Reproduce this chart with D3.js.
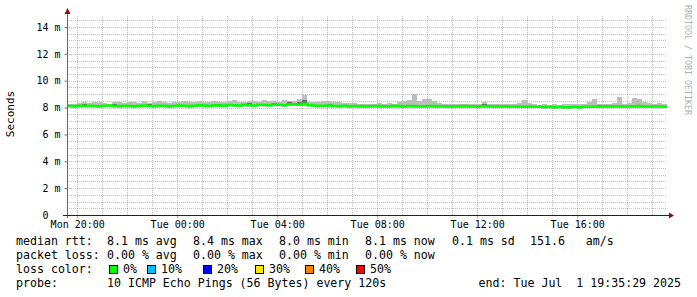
<!DOCTYPE html>
<html>
<head>
<meta charset="utf-8">
<script src="https://cdn.jsdelivr.net/npm/d3@7"></script>
<style>
body { margin: 0; background: #fff; }
svg text { font-family: "DejaVu Sans Mono", monospace; white-space: pre; }
</style>
</head>
<body>
<svg id="chart" width="697" height="297"></svg>
<script>
// 24h window, one bin every 12 minutes (ms values)
var start = new Date(2025, 5, 30, 19, 35, 29),
    end = new Date(2025, 6, 1, 19, 35, 29),
    binMinutes = 12;

var median = [
  8.12,8.10,8.13,8.11,8.14,8.12,8.10,8.13,8.15,8.12,
  8.11,8.14,8.12,8.10,8.13,8.16,8.12,8.11,8.14,8.13,
  8.10,8.12,8.15,8.13,8.11,8.14,8.17,8.15,8.12,8.18,
  8.16,8.13,8.19,8.17,8.15,8.20,8.18,8.16,8.21,8.19,
  8.17,8.22,8.20,8.18,8.23,8.25,8.21,8.28,8.19,8.16,
  8.14,8.13,8.15,8.12,8.11,8.13,8.10,8.12,8.11,8.09,
  8.10,8.12,8.11,8.09,8.10,8.13,8.11,8.10,8.12,8.11,
  8.09,8.10,8.12,8.11,8.09,8.10,8.08,8.10,8.09,8.11,
  8.10,8.08,8.09,8.11,8.10,8.08,8.09,8.10,8.08,8.07,
  8.08,8.06,8.07,8.05,8.06,8.04,8.05,8.03,8.04,8.02,
  8.03,8.04,8.02,8.05,8.06,8.08,8.07,8.09,8.08,8.10,
  8.09,8.08,8.10,8.09,8.11,8.08,8.07,8.09,8.08,8.06
];
var smokeHi = [
  8.30,8.28,8.35,8.40,8.32,8.38,8.45,8.36,8.30,8.42,
  8.38,8.33,8.40,8.44,8.35,8.48,8.36,8.42,8.46,8.38,
  8.35,8.44,8.40,8.52,8.38,8.45,8.48,8.40,8.44,8.50,
  8.42,8.38,8.46,8.55,8.44,8.40,8.48,8.52,8.42,8.58,
  8.46,8.50,8.44,8.56,8.48,8.52,8.60,8.90,8.45,8.40,
  8.38,8.48,8.52,8.45,8.40,8.36,8.32,8.34,8.30,8.28,
  8.30,8.26,8.32,8.28,8.35,8.30,8.42,8.48,8.55,9.00,
  8.50,8.60,8.62,8.48,8.36,8.30,8.28,8.26,8.30,8.27,
  8.25,8.24,8.28,8.45,8.30,8.25,8.26,8.30,8.24,8.26,
  8.32,8.55,8.35,8.28,8.22,8.25,8.20,8.26,8.22,8.24,
  8.30,8.28,8.24,8.26,8.40,8.60,8.30,8.26,8.25,8.32,
  8.82,8.30,8.34,8.72,8.64,8.40,8.35,8.28,8.33,8.26
];
var smokeLo = [
  8.02,8.00,8.03,8.01,8.04,8.02,7.99,8.03,8.05,8.01,
  8.00,8.04,8.02,7.98,8.03,8.05,8.02,8.00,8.04,8.02,
  7.99,8.01,8.05,8.02,8.00,8.04,8.06,8.05,8.01,8.07,
  8.05,8.02,8.08,8.06,8.04,8.09,8.07,8.05,8.10,8.08,
  8.06,8.11,8.08,8.07,8.10,8.12,8.08,8.12,8.06,8.04,
  8.03,8.01,8.04,8.01,8.00,8.02,7.98,8.01,8.00,7.97,
  7.99,8.01,7.99,7.97,7.98,8.02,7.99,7.98,8.01,7.99,
  7.97,7.98,8.01,7.99,7.97,7.98,7.96,7.99,7.97,8.00,
  7.98,7.96,7.97,8.00,7.98,7.96,7.97,7.99,7.96,7.95,
  7.96,7.94,7.95,7.93,7.94,7.92,7.93,7.91,7.93,7.90,
  7.91,7.93,7.90,7.94,7.95,7.97,7.95,7.98,7.96,7.99,
  7.97,7.96,7.99,7.97,8.00,7.96,7.95,7.98,7.96,7.94
];
// darker smoke patches (bin index, upper value)
var darkBins = [3, 9, 16, 30, 36, 41, 44, 46, 47, 52, 83, 106, 110];
var darkTop  = [8.26, 8.28, 8.25, 8.30, 8.33, 8.36, 8.38, 8.42, 8.55, 8.30, 8.24, 8.20, 8.22];

var yTicks = [0, 2, 4, 6, 8, 10, 12, 14];
var lossLabels = ["0%", "10%", "20%", "30%", "40%", "50%"];
var lossColors = ["#00ff00", "#00c0ff", "#0000ff", "#ffe800", "#ff8000", "#ff0000"];
var rttItems = ["median rtt:", "8.1 ms avg", "8.4 ms max", "8.0 ms min", "8.1 ms now", "0.1 ms sd", "151.6   am/s"];
var lossItems = ["packet loss:", "0.00 % avg", "0.00 % max", "0.00 % min", "0.00 % now"];
var probeItems = ["probe:", "10 ICMP Echo Pings (56 Bytes) every 120s"];
var endText = "end: Tue Jul  1 19:35:29 2025";

var plotLeft = 67, plotRight = 667, plotTop = 15, plotBottom = 215;
var itemX = [16, 107, 193, 279, 365, 452, 530];
var svg = d3.select("#chart");

var x = d3.scaleTime().domain([start, end]).range([plotLeft, plotRight]);
var y = d3.scaleLinear().domain([0, 14.89]).range([plotBottom, plotTop]);
var binTime = function(i) { return new Date(start.getTime() + i * binMinutes * 60000); };

function dotted(sel, color) {
  sel.select(".domain").remove();
  sel.selectAll("line").attr("stroke", color).attr("stroke-dasharray", "1,1")
     .attr("shape-rendering", "crispEdges");
}

// minor grid
svg.append("g")
    .attr("transform", "translate(" + plotLeft + ",0)")
    .call(d3.axisLeft(y).tickValues(d3.range(0.5, 15, 0.5).filter(function(v) { return v % 2 !== 0; }))
        .tickSize(-(plotRight - plotLeft)).tickFormat(""))
    .call(dotted, "#c0c0c0");

var hours = d3.timeHour.every(1).range(start, end);
svg.append("g")
    .attr("transform", "translate(0," + plotBottom + ")")
    .call(d3.axisBottom(x).tickValues(hours.filter(function(d) { return d.getHours() % 2 === 1; }))
        .tickSize(-(plotBottom - plotTop)).tickFormat(""))
    .call(dotted, "#c0c0c0");

// major grid (red)
svg.append("g")
    .attr("transform", "translate(" + plotLeft + ",0)")
    .call(d3.axisLeft(y).tickValues(yTicks.slice(1)).tickSize(-(plotRight - plotLeft)).tickFormat(""))
    .call(dotted, "rgba(255,0,0,0.35)");

svg.append("g")
    .attr("transform", "translate(0," + plotBottom + ")")
    .call(d3.axisBottom(x).tickValues(hours.filter(function(d) { return d.getHours() % 2 === 0; }))
        .tickSize(-(plotBottom - plotTop)).tickFormat(""))
    .call(dotted, "rgba(255,0,0,0.35)");

// smoke
svg.append("g").selectAll("rect")
    .data(median)
    .enter().append("rect")
    .attr("x", function(d, i) { return x(binTime(i)); })
    .attr("width", function(d, i) { return x(binTime(i + 1)) - x(binTime(i)); })
    .attr("y", function(d, i) { return y(smokeHi[i]); })
    .attr("height", function(d, i) { return y(smokeLo[i]) - y(smokeHi[i]); })
    .attr("fill", "#bdbdbd")
    .attr("shape-rendering", "crispEdges");

svg.append("g").selectAll("rect")
    .data(darkBins)
    .enter().append("rect")
    .attr("x", function(d) { return x(binTime(d)); })
    .attr("width", function(d) { return x(binTime(d + 1)) - x(binTime(d)); })
    .attr("y", function(d, i) { return y(darkTop[i]); })
    .attr("height", function(d, i) { return y(median[d]) - y(darkTop[i]); })
    .attr("fill", "#6a6a6a")
    .attr("shape-rendering", "crispEdges");

// median line
var pts = median.map(function(d, i) { return [binTime(i), d]; });
pts.push([end, median[median.length - 1]]);
svg.append("path")
    .datum(pts)
    .attr("fill", "none")
    .attr("stroke", "#00ff00")
    .attr("stroke-width", 2.5)
    .attr("d", d3.line().curve(d3.curveStepAfter)
        .x(function(d) { return x(d[0]); })
        .y(function(d) { return y(d[1]); }));

// y axis with labels
var yAxis = svg.append("g")
    .attr("transform", "translate(" + (plotLeft + 0.5) + ",0)")
    .call(d3.axisLeft(y).tickValues(yTicks).tickSize(3).tickPadding(4)
        .tickFormat(function(d) { return d === 0 ? "0" : d + " m"; }));
yAxis.select(".domain").remove();
yAxis.selectAll("line").attr("stroke", "#777");
yAxis.selectAll("text").attr("font-size", "10px").attr("fill", "#000")
    .style("font-family", "DejaVu Sans Mono");
yAxis.selectAll(".tick").filter(function(d) { return d === 0; })
    .select("text").attr("dx", "-1.2em");

svg.append("line")
    .attr("x1", plotLeft + 0.5).attr("x2", plotLeft + 0.5)
    .attr("y1", plotBottom + 3).attr("y2", 12)
    .attr("stroke", "#666");
svg.append("path")
    .attr("d", "M" + (plotLeft - 2.5) + ",14 L" + (plotLeft + 3.5) + ",14 L" + (plotLeft + 0.5) + ",8 Z")
    .attr("fill", "#8b1010");

// x axis with labels
var xAxis = svg.append("g")
    .attr("transform", "translate(0," + (plotBottom + 0.5) + ")")
    .call(d3.axisBottom(x).ticks(d3.timeHour.every(4)).tickSize(3).tickPadding(2)
        .tickFormat(d3.timeFormat("%a %H:%M")));
xAxis.select(".domain").remove();
xAxis.selectAll("line").attr("stroke", "rgba(255,0,0,0.5)");
xAxis.selectAll("text").attr("font-size", "10px").attr("fill", "#000")
    .style("font-family", "DejaVu Sans Mono");

svg.append("line")
    .attr("x1", plotLeft - 4).attr("x2", plotRight + 2)
    .attr("y1", plotBottom + 0.5).attr("y2", plotBottom + 0.5)
    .attr("stroke", "#222");
svg.append("path")
    .attr("d", "M" + (plotRight + 2) + "," + (plotBottom - 2.5) + " L" + (plotRight + 2) + "," + (plotBottom + 3.5) + " L" + (plotRight + 7) + "," + (plotBottom + 0.5) + " Z")
    .attr("fill", "#8b1010");

// axis title and watermark
svg.append("text")
    .attr("transform", "translate(14,114) rotate(-90)")
    .attr("text-anchor", "middle")
    .attr("font-size", "11px")
    .text("Seconds");

svg.append("text")
    .attr("transform", "translate(685,5) rotate(90)")
    .attr("font-size", "8.3px")
    .attr("fill", "#b0b0b0")
    .text("RRDTOOL / TOBI OETIKER");

// legend
function legendRow(items, yPos) {
  svg.append("g").selectAll("text")
      .data(items)
      .enter().append("text")
      .attr("x", function(d, i) { return itemX[i]; })
      .attr("y", yPos)
      .attr("font-size", "11.6px")
      .text(function(d) { return d; });
}
legendRow(rttItems, 245);
legendRow(lossItems, 259);
legendRow(probeItems, 287);

svg.append("text").attr("x", 16).attr("y", 273).attr("font-size", "11.6px").text("loss color:");
var boxX = [109, 147, 203, 255, 305, 356];
lossLabels.forEach(function(l, i) {
  svg.append("rect")
      .attr("x", boxX[i] + 0.5).attr("y", 265.5)
      .attr("width", 8).attr("height", 8)
      .attr("fill", lossColors[i]).attr("stroke", "#000");
  svg.append("text").attr("x", boxX[i] + 14).attr("y", 273).attr("font-size", "11.6px").text(l);
});

svg.append("text").attr("x", 681).attr("y", 287).attr("text-anchor", "end").attr("font-size", "11.6px").text(endText);
</script>
</body>
</html>
